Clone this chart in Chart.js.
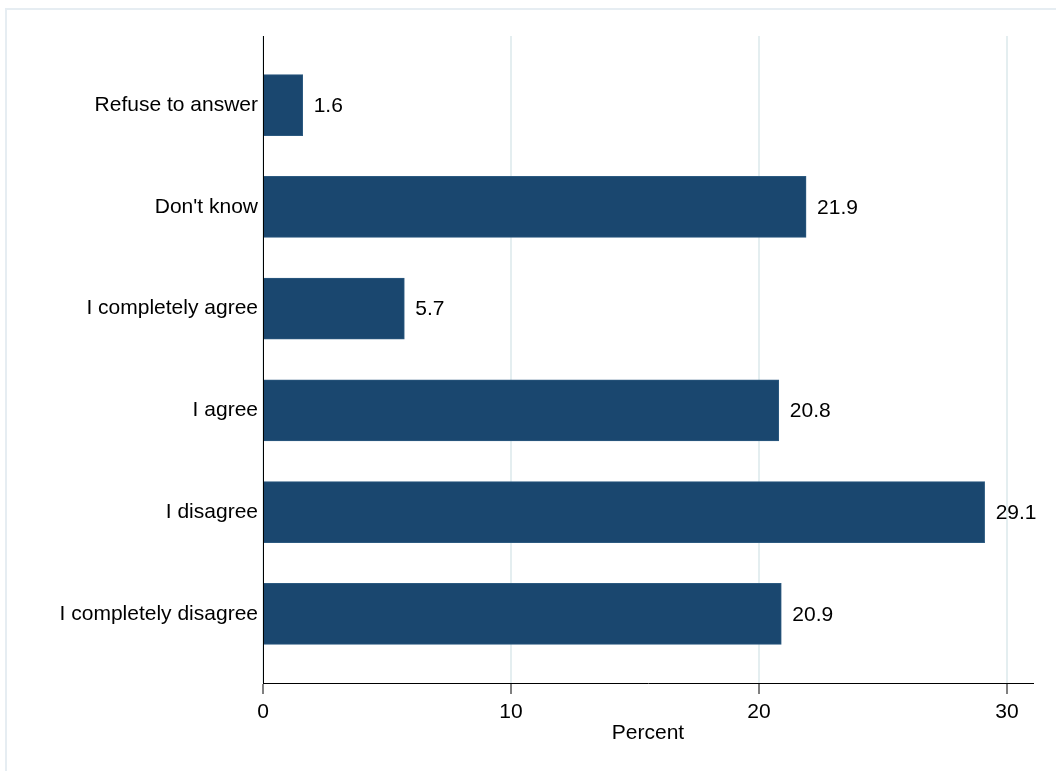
<!DOCTYPE html>
<html>
<head>
<meta charset="utf-8">
<script src="https://cdn.jsdelivr.net/npm/chart.js@4"></script>
<style>
  body { margin: 0; background: #fff; }
  #wrap { position: relative; width: 1056px; height: 771px; }
</style>
</head>
<body>
<div id="wrap"><canvas id="barChart" width="1056" height="771"></canvas></div>
<script>
// Data (top to bottom)
const categories = ['Refuse to answer', "Don't know", 'I completely agree', 'I agree', 'I disagree', 'I completely disagree'];
const percents = [1.6, 21.9, 5.7, 20.8, 29.1, 20.9];
const xTicks = [0, 10, 20, 30];

Chart.defaults.font.family = "'Liberation Sans', Arial, sans-serif";
Chart.defaults.font.size = 21;
Chart.defaults.color = '#000';

// light frame around the graph region (only top/left visible in the original)
const frame = {
    id: 'frame',
    beforeDraw(chart) {
        const ctx = chart.ctx;
        ctx.save();
        ctx.strokeStyle = '#e6edf2';
        ctx.lineWidth = 2;
        ctx.beginPath();
        ctx.moveTo(6, 800);
        ctx.lineTo(6, 9);
        ctx.lineTo(1100, 9);
        ctx.stroke();
        ctx.restore();
    }
};

// value labels at the end of each bar
const barValues = {
    id: 'barValues',
    afterDatasetsDraw(chart) {
        const ctx = chart.ctx;
        const meta = chart.getDatasetMeta(0);
        ctx.save();
        ctx.font = "21px 'Liberation Sans', Arial, sans-serif";
        ctx.fillStyle = '#000';
        ctx.textAlign = 'left';
        ctx.textBaseline = 'middle';
        meta.data.forEach((bar, i) => {
            ctx.fillText(percents[i].toFixed(1), bar.x + 11, bar.y + 1);
        });
        ctx.restore();
    }
};

const ctx = document.getElementById('barChart').getContext('2d');
new Chart(ctx, {
    type: 'bar',
    data: {
        datasets: [{
            data: percents.map((v, i) => ({ x: v, y: i })),
            backgroundColor: '#1a476f',
            borderColor: '#2c5a80',
            borderWidth: 1,
            barThickness: 61
        }]
    },
    options: {
        indexAxis: 'y',
        responsive: false,
        animation: false,
        layout: { padding: { left: 0, right: 23, top: 36, bottom: 0 } },
        plugins: {
            legend: { display: false },
            tooltip: { enabled: false }
        },
        scales: {
            x: {
                type: 'linear',
                min: 0,
                max: 31.05,
                afterBuildTicks: scale => { scale.ticks = xTicks.map(v => ({ value: v })); },
                afterFit: scale => { scale.height = 88; },
                grid: { color: '#e4eef0', lineWidth: 2, tickColor: '#000', tickLength: 11, tickWidth: 1 },
                border: { display: true, color: '#000', width: 1 },
                ticks: { padding: 6, maxRotation: 0 },
                title: { display: true, text: 'Percent', padding: { top: 0, bottom: 25 } }
            },
            y: {
                type: 'linear',
                reverse: true,
                offset: false,
                min: -0.68,
                max: 5.68,
                afterBuildTicks: scale => { scale.ticks = categories.map((_, i) => ({ value: i })); },
                afterFit: scale => { scale.width = 263; },
                grid: { display: false, drawTicks: false, offset: false },
                border: { display: true, color: '#000', width: 1 },
                ticks: { padding: 5, callback: v => categories[v] }
            }
        }
    },
    plugins: [frame, barValues]
});
</script>
</body>
</html>
